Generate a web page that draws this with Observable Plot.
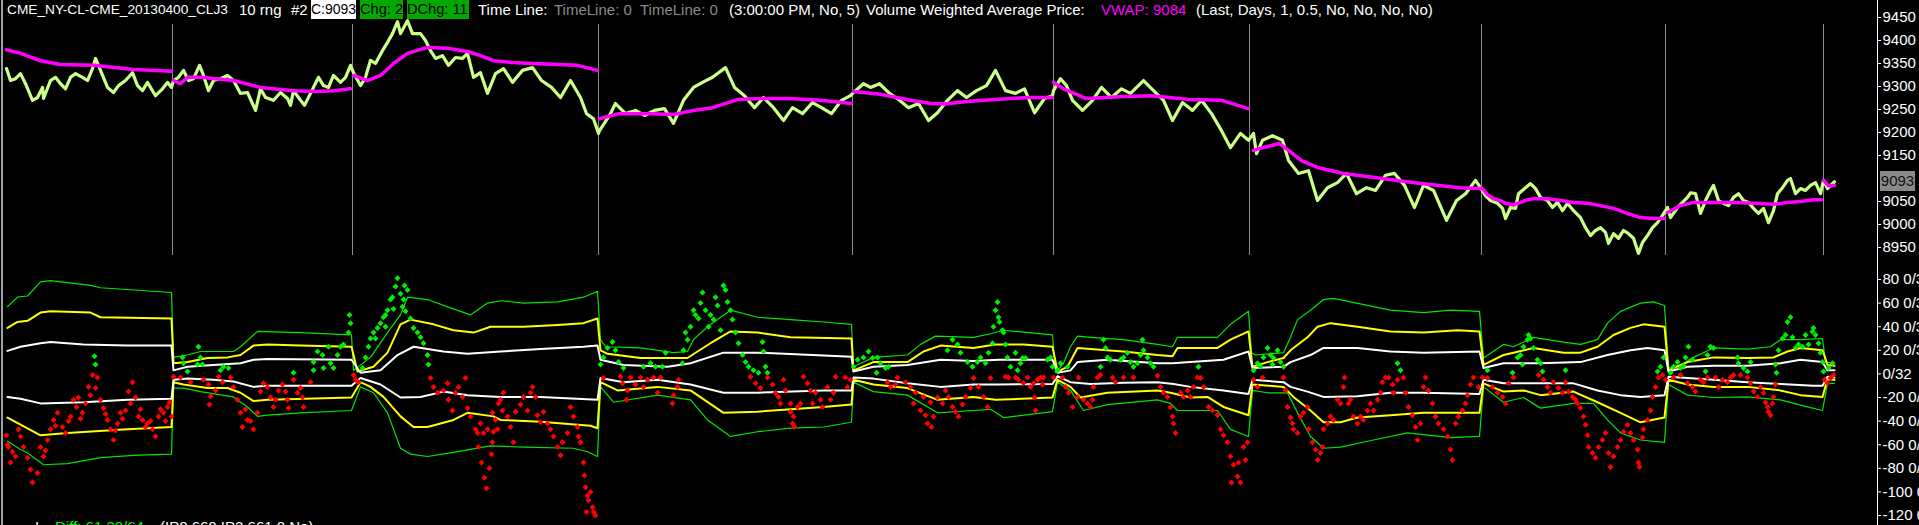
<!DOCTYPE html>
<html>
<head>
<meta charset="utf-8">
<script src="https://cdn.jsdelivr.net/npm/d3@7"></script>
<script src="https://cdn.jsdelivr.net/npm/@observablehq/plot@0.6"></script>
<style>
html,body{margin:0;padding:0;background:#000;}
#wrap{position:relative;width:1919px;height:525px;overflow:hidden;background:#000;font-family:"Liberation Sans",Arial,sans-serif;}
#upper,#lower{position:absolute;left:0;}
#upper{top:0;}
#lower{top:260px;}
.t{position:absolute;top:0;height:19px;line-height:19px;font-size:15px;white-space:nowrap;color:#fff;}
.box{color:#000;padding:0;box-sizing:border-box;overflow:hidden;}
.gray{color:#8a8a8a;}
.mag{color:#ff00ff;}
#leftline{position:absolute;left:1px;top:0;width:2px;height:525px;background:#a0a0a0;}
#axisline{position:absolute;left:1877px;top:0;width:1px;height:525px;background:#fff;}
#badge{position:absolute;left:1880px;width:35px;height:20px;line-height:20px;background:#8a8a8a;color:#111;font-size:15px;text-align:center;}
.b{position:absolute;top:518px;font-size:15px;line-height:17px;white-space:nowrap;color:#fff;}
</style>
</head>
<body>
<div id="wrap">
  <div id="upper"></div>
  <div id="lower"></div>
  <div id="leftline"></div>
  <div id="axisline"></div>
  <div id="title"></div>
  <div id="bottom"></div>
</div>
<script>
// ---------- data ----------
const sessionStarts = [172, 352, 598, 852, 1053, 1249, 1481, 1665, 1823];
const priceTicks = [8950, 9000, 9050, 9150, 9200, 9250, 9300, 9350, 9400, 9450];
const oscTicks = [-120, -100, -80, -60, -40, -20, 0, 20, 40, 60, 80];
const lastPrice = 9093;

// price (bar, price)
const price = [
[6,9339],[10,9313],[15,9317],[20,9328],[25,9306],[32,9270],[37,9276],[42,9298],[43,9274],[50,9313],[55,9320],[60,9306],[65,9295],[70,9320],[75,9328],[82,9320],[87,9313],[92,9339],[95,9361],[100,9335],[107,9298],[113,9287],[118,9302],[125,9313],[132,9330],[137,9302],[142,9291],[147,9309],[155,9280],[162,9295],[167,9309],[171,9298],
[173,9313],[178,9320],[183,9335],[188,9313],[193,9317],[199,9346],[203,9324],[208,9291],[213,9313],[220,9317],[227,9324],[233,9313],[240,9285],[247,9287],[255,9248],[260,9295],[265,9276],[273,9270],[280,9287],[287,9274],[290,9259],[293,9291],[300,9270],[304,9259],[310,9285],[318,9320],[323,9302],[328,9298],[333,9324],[340,9309],[345,9320],[350,9346],
[353,9330],[360,9302],[365,9320],[370,9357],[375,9350],[382,9378],[387,9396],[392,9415],[397,9441],[400,9415],[407,9443],[412,9415],[420,9415],[425,9400],[430,9378],[435,9361],[442,9367],[448,9346],[455,9363],[462,9361],[467,9372],[473,9320],[480,9330],[487,9285],[495,9328],[503,9339],[512,9309],[522,9335],[532,9341],[541,9313],[551,9298],[560,9276],[570,9313],[580,9276],[586,9241],[593,9230],[598,9198],
[599,9204],[609,9237],[615,9263],[625,9241],[635,9248],[644,9237],[654,9248],[664,9252],[673,9220],[683,9270],[693,9298],[702,9309],[712,9320],[725,9341],[734,9298],[744,9280],[754,9254],[763,9276],[773,9254],[783,9226],[792,9254],[802,9241],[812,9265],[821,9254],[831,9241],[841,9270],[850,9280],
[853,9287],[863,9306],[870,9298],[879,9306],[889,9285],[899,9270],[908,9254],[918,9263],[928,9226],[937,9243],[947,9270],[957,9291],[966,9276],[976,9291],[986,9302],[995,9335],[1005,9291],[1015,9285],[1024,9295],[1034,9243],[1044,9274],[1052,9280],
[1053,9291],[1060,9317],[1066,9302],[1072,9270],[1082,9248],[1092,9270],[1101,9298],[1111,9276],[1121,9295],[1130,9285],[1143,9313],[1153,9291],[1163,9270],[1172,9226],[1182,9265],[1192,9248],[1201,9270],[1211,9241],[1221,9204],[1230,9167],[1240,9198],[1248,9183],
[1253,9198],[1256,9154],[1262,9183],[1272,9193],[1282,9183],[1288,9139],[1298,9111],[1308,9117],[1317,9052],[1327,9080],[1337,9091],[1346,9111],[1356,9067],[1366,9080],[1375,9074],[1385,9107],[1394,9111],[1404,9085],[1414,9037],[1423,9085],[1433,9074],[1446,9009],[1456,9052],[1465,9067],[1475,9096],[1480,9080],
[1485,9063],[1490,9052],[1497,9046],[1502,9035],[1505,9013],[1510,9037],[1515,9035],[1518,9067],[1525,9080],[1530,9089],[1535,9078],[1540,9059],[1547,9052],[1552,9037],[1557,9048],[1562,9030],[1567,9046],[1573,9030],[1580,9015],[1585,8993],[1590,8976],[1595,8987],[1600,8993],[1605,8983],[1608,8959],[1613,8980],[1618,8970],[1623,8987],[1628,8980],[1633,8970],[1638,8937],[1642,8961],[1647,8976],[1652,8993],[1657,9004],[1662,9020],[1665,9030],
[1667,9037],[1670,9015],[1677,9037],[1682,9048],[1687,9059],[1690,9069],[1695,9067],[1700,9024],[1705,9052],[1710,9074],[1713,9085],[1718,9052],[1723,9046],[1728,9041],[1733,9059],[1738,9067],[1743,9052],[1748,9048],[1753,9035],[1758,9024],[1763,9035],[1768,9004],[1773,9030],[1777,9067],[1782,9080],[1787,9096],[1790,9100],[1795,9067],[1800,9078],[1805,9074],[1810,9085],[1815,9091],[1820,9067],
[1823,9096],[1827,9078],[1830,9085],[1834,9093]
];

// VWAP (bar, price), resets each session
const vwap = [
[6,9380],[20,9372],[40,9356],[60,9348],[93,9346],[133,9337],[171,9333],
[173,9313],[180,9306],[187,9320],[200,9320],[233,9313],[260,9298],[293,9291],[317,9289],[333,9291],[350,9295],
[353,9324],[367,9313],[380,9324],[393,9350],[407,9372],[427,9385],[447,9383],[467,9376],[480,9367],[493,9356],[512,9352],[532,9350],[577,9346],[597,9335],
[599,9230],[618,9241],[650,9241],[673,9239],[693,9248],[712,9254],[738,9272],[760,9274],[789,9274],[820,9270],[851,9263],
[853,9289],[880,9283],[910,9270],[931,9263],[944,9262],[969,9268],[995,9272],[1027,9276],[1052,9276],
[1053,9309],[1063,9295],[1079,9280],[1085,9274],[1124,9278],[1150,9280],[1169,9276],[1188,9272],[1221,9270],[1248,9252],
[1253,9161],[1262,9167],[1279,9176],[1288,9161],[1301,9139],[1317,9124],[1343,9111],[1382,9100],[1414,9091],[1459,9080],[1479,9078],
[1481,9080],[1487,9065],[1493,9056],[1500,9052],[1505,9046],[1513,9043],[1520,9048],[1527,9054],[1533,9056],[1547,9056],[1560,9052],[1573,9048],[1587,9046],[1600,9041],[1613,9035],[1627,9024],[1640,9015],[1653,9013],[1664,9013],
[1667,9026],[1680,9041],[1693,9048],[1713,9048],[1733,9048],[1753,9046],[1773,9044],[1787,9048],[1800,9050],[1813,9054],[1821,9054],
[1823,9096],[1828,9084],[1834,9085]
];

// deviation bands (bar, value)
const greenUpper = [
[7,57],[17,65],[27,66],[40,78],[50,79],[90,75],[100,73],[171,69],
[173,14],[187,16],[200,19],[233,19],[240,23],[253,33],[257,36],[300,35],[351,33],
[353,3],[370,14],[387,35],[400,50],[407,65],[427,63],[450,56],[470,50],[487,60],[500,62],[523,60],[557,61],[583,65],[597,70],
[600,29],[605,23],[640,22],[673,18],[687,19],[693,29],[707,40],[730,54],[757,48],[790,46],[823,44],[851,42],
[853,6],[873,14],[907,16],[920,25],[935,32],[973,31],[990,34],[1003,37],[1052,33],
[1055,1],[1063,9],[1070,23],[1077,32],[1090,31],[1123,29],[1157,25],[1172,23],[1177,31],[1217,31],[1230,42],[1248,53],
[1251,18],[1255,16],[1283,18],[1290,31],[1297,46],[1310,54],[1323,63],[1333,64],[1373,57],[1390,54],[1423,52],[1450,54],[1479,53],
[1483,13.5],[1503,25],[1513,23],[1533,31],[1563,27],[1580,25],[1597,29],[1607,43],[1620,53],[1640,60],[1653,61],[1664,58],
[1668,5],[1680,7.6],[1693,14],[1713,22],[1747,21],[1770,23],[1780,29],[1800,29],[1822,30],
[1825,10],[1834,9]
];
const yellowUpper = [
[7,39],[17,44],[27,45],[40,52],[50,53],[90,52],[100,48],[171,47],
[173,9],[187,10],[207,13.5],[227,14],[240,16],[253,24],[267,25],[300,24],[351,23],
[357,2],[373,6],[387,18],[400,42],[410,46],[433,42],[453,37],[473,35],[490,40],[523,40],[557,41.5],[583,43],[597,47],
[600,20],[607,17],[640,13.5],[687,13.5],[697,19],[710,26],[730,36],[757,35],[790,31],[851,30],
[853,3],[873,10],[907,10],[923,19],[940,24],[973,22],[995,25],[1023,25],[1052,23],
[1057,2],[1067,6],[1077,22],[1090,21],[1123,19],[1157,16],[1172,15],[1177,22],[1217,22],[1230,29],[1248,36],
[1252,6],[1267,10],[1283,13.5],[1290,20],[1307,31],[1317,40],[1330,43],[1357,40],[1390,36],[1423,35],[1457,37],[1479,36],
[1483,7.6],[1503,16],[1513,18],[1533,22],[1563,18],[1580,18],[1597,23],[1613,33],[1630,39],[1643,42],[1664,40],
[1668,3],[1687,10],[1713,14],[1747,13.5],[1773,14],[1787,19],[1800,22],[1822,20],
[1827,7.6],[1834,7]
];
const whiteUpper = [
[7,19.5],[20,23],[40,26],[50,27],[83,25],[127,24],[171,24],
[173,3],[187,6],[213,7.6],[240,9],[253,12],[267,12.7],[351,12],
[360,1],[380,3],[397,16],[413,23],[443,19],[467,17],[500,19],[540,21],[583,23],[597,24],
[600,12],[623,7.6],[667,6],[690,9],[723,18],[757,18],[851,14.5],
[853,2],[873,6],[907,7.6],[940,12],[973,11],[998,12],[1052,12],
[1057,1],[1070,3],[1077,10],[1107,12],[1157,9],[1172,9],[1190,10],[1223,12],[1248,19],
[1252,5],[1283,6],[1290,10],[1310,16],[1323,22],[1357,22],[1390,19],[1423,18],[1479,19],
[1483,5],[1503,9],[1540,9],[1580,10],[1607,16],[1630,20],[1647,22],[1664,20],
[1668,2],[1687,6],[1713,7],[1747,7],[1780,9],[1800,12],[1822,10],
[1827,3],[1834,3]
];
const whiteLower = [
[7,-19.5],[20,-21],[40,-25],[83,-24],[127,-22],[171,-21],
[173,-5],[187,-4],[213,-5],[233,-6.5],[253,-11],[267,-10],[351,-10],
[360,-3.5],[380,-9],[400,-20],[420,-19.5],[443,-15],[467,-18],[500,-19.5],[540,-19.5],[597,-22],
[600,-3.5],[623,-7],[657,-5],[690,-9],[723,-16],[757,-16],[823,-14],[851,-14],
[853,-3],[873,-4],[907,-8],[940,-11],[973,-9],[998,-9],[1052,-8.5],
[1057,-2],[1070,-7],[1090,-8.5],[1123,-7.6],[1157,-7],[1173,-8.5],[1190,-11],[1223,-14],[1248,-17],
[1252,-5],[1283,-7],[1290,-11],[1307,-15],[1323,-19.5],[1357,-19],[1390,-16],[1423,-16],[1479,-17],
[1483,-5],[1503,-8],[1540,-8],[1573,-8],[1597,-14],[1620,-18],[1640,-19.5],[1664,-18],
[1668,-2.5],[1687,-3.5],[1713,-5],[1747,-7],[1780,-8.5],[1813,-10],[1822,-10],
[1827,-2.5],[1834,-3]
];
const yellowLower = [
[7,-37],[20,-43],[40,-52],[67,-50],[127,-47],[171,-45],
[173,-7],[183,-9],[207,-12],[227,-12],[240,-16],[253,-23],[267,-22],[351,-20],
[360,-7],[370,-11],[383,-19.5],[400,-36],[413,-45],[427,-45],[453,-39],[467,-33],[493,-36],[500,-39],[540,-40.6],[590,-44],[597,-46],
[600,-7],[617,-14],[657,-11],[690,-14],[723,-33],[757,-32],[823,-28],[851,-26],
[853,-5],[873,-9],[907,-12],[937,-22],[973,-19.5],[995,-22],[1052,-20],
[1057,-5],[1070,-11],[1080,-20],[1107,-16],[1157,-14],[1170,-16],[1190,-20],[1207,-19.5],[1223,-28],[1248,-35],
[1252,-9],[1283,-11],[1293,-19.5],[1310,-31],[1323,-41],[1340,-41],[1357,-37],[1390,-35],[1423,-33],[1479,-33],
[1483,-8],[1503,-15],[1523,-14],[1540,-18],[1573,-15],[1597,-24],[1620,-33],[1640,-41],[1664,-37],
[1668,-5],[1687,-9],[1713,-11],[1747,-11],[1780,-14],[1800,-18],[1822,-19.5],
[1827,-4.5],[1834,-5]
];
const greenLower = [
[7,-57],[20,-64],[27,-67],[43,-77],[67,-76],[100,-71],[133,-69],[171,-68],
[173,-12],[183,-12],[200,-15],[233,-19.5],[247,-28],[257,-36],[267,-35],[300,-33],[351,-31],
[360,-11],[373,-16],[387,-33],[400,-63],[410,-68],[427,-70],[450,-67],[470,-64],[490,-61],[523,-62],[573,-63],[587,-66],[597,-70],
[600,-11],[613,-24],[657,-18],[690,-22],[707,-39],[730,-53],[757,-49],[790,-46],[823,-45],[851,-41],
[853,-7],[873,-15],[907,-18],[937,-33],[973,-31],[990,-30],[1003,-37],[1052,-32],
[1057,-7],[1070,-14],[1083,-31],[1107,-26],[1157,-22],[1170,-25],[1177,-31],[1217,-31],[1230,-47],[1248,-53],
[1252,-14],[1267,-16],[1287,-16],[1297,-33],[1310,-53],[1323,-63],[1340,-62],[1373,-56],[1407,-50],[1450,-54],[1479,-53],
[1483,-11],[1503,-24],[1523,-20],[1540,-29],[1573,-25],[1593,-25],[1607,-39],[1620,-50],[1640,-56],[1664,-58],
[1668,-9],[1687,-18],[1713,-20],[1747,-19.5],[1780,-22],[1807,-28],[1822,-31],
[1827,-8],[1834,-8]
];

// deviation of each range bar from VWAP (bar, value)
const deviation = [
// session 1
[6,-52],[8,-62],[18,-47],[20,-53],[23,-62],[40,-62],[47,-56],[50,-47],[53,-39],[57,-33],[62,-45],[65,-50],[70,-36],[73,-22],[78,-20],[82,-33],[85,-25],[88,-11],[92,-1],[95,-12],[97,-3],[100,-22],[103,-29],[107,-39],[110,-47],[113,-56],[117,-42],[120,-33],[125,-31],[128,-15],[132,-7],[135,-20],[138,-36],[142,-39],[147,-42],[152,-47],[155,-53],[158,-36],[163,-33],[167,-28],[171,-36],
[7,-60],[12,-66],[15,-70],[10,-75],[27,-71],[30,-81],[32,-92],[37,-84],[43,-70],[45,-65],[55,-44],[68,-40],[76,-28],[80,-38],[90,-18],[105,-34],[115,-48],[122,-38],[130,-25],[140,-30],[145,-45],[150,-40],[160,-30],[165,-40],[169,-24],
[94,15],[95,8],
// session 2
[182,14],[183,9],[187,2],[198,23],[200,14],[197,8],[202,8],[220,3],[223,6],[228,5],[293,1],[313,10],[317,19],[322,16],[328,23],[330,9],[333,5],[337,16],[340,23],[343,25],[348,35],[350,43],[349,50],[313,3],[323,5],
[173,-2.5],[180,-3],[190,-7],[203,-5],[208,-9],[210,-19],[209,-26],[215,-14],[218,-2.5],[222,-7],[230,-3],[233,-11],[237,-22],[240,-33],[242,-45],[247,-39],[253,-47],[257,-33],[260,-15],[263,-8],[267,-11],[270,-20],[273,-28],[278,-14],[282,-9],[287,-22],[288,-29],[293,-5],[297,-16],[302,-20],[303,-28],[310,-7],[250,-40],[245,-30],[275,-22],[285,-15],[300,-12],
// session 3
[353,-1],[355,-5],[358,-7],
[362,5],[365,14],[368,23],[370,30],[373,35],[377,39],[380,43],[383,48],[387,54],[390,63],[392,65],[395,74],[397,81],[403,63],[402,57],[405,53],[407,71],[410,47],[413,39],[417,35],[420,31],[423,26],[427,16],[428,8],[375,30],[385,40],[393,55],[400,68],[404,75],[385,50],
[430,-3.5],[433,-11],[437,-16],[443,-14],[447,-8],[448,-22],[452,-31],[455,-16],[458,-11],[462,-19.5],[465,-3.5],[467,-29],[470,-36],[475,-47],[477,-50],[480,-42],[483,-50],[487,-47],[492,-33],[497,-47],[500,-22],
[478,-62],[481,-75],[484,-88],[486,-97],[489,-80],[491,-68],
[492,-58],[493,-49],[495,-39],[498,-25],[503,-16],[502,-31],[507,-36],[510,-45],[513,-58],[515,-32],[520,-26],[523,-19.5],[527,-31],[530,-16],[532,-11],[535,-19.5],[537,-35],[540,-41],[543,-32],[547,-42],[550,-47],[553,-53],[557,-62],[560,-69],[562,-58],[567,-50],[570,-28],[573,-36],[577,-45],[578,-53],[580,-58],[583,-75],[584,-86],[585,-96],[587,-103],[588,-107],[590,-100],[592,-113],[593,-117],[595,-120],[586,-117],
// session 4
[600,8],[603,14],[607,22],[612,27],[615,20],[618,10],[623,5],[643,6],[650,9],[655,6],[665,18],[662,6],[682,9],[683,20],[687,29],[690,40],[693,54],[698,47],[702,69],[705,54],[708,40],[713,46],[717,58],[720,37],[723,75],[725,71],[727,61],[730,54],[732,46],[735,35],[738,26],[742,16],[745,10],[748,6],[753,3],[758,1],[762,27],[763,19],[765,6],[767,1],[685,35],[695,50],[700,60],[710,50],[715,65],
[603,-3.5],[620,-2.5],[622,-8],[627,-14],[626,-22],[630,-3],[635,-9],[640,-3],[643,-11],[647,-5],[653,-3],[657,-16],[660,-3],[672,-25],[673,-18],[677,-11],[678,-5],[750,-2.5],[755,-8],[760,-12],[767,-3],[772,-9],[775,-16],[778,-19.5],[780,-25],[783,-5],[785,-14],[790,-25],[792,-42],[793,-36],[797,-28],[800,-25],[803,-2.5],[807,-8],[810,-14],[812,-25],[815,-16],[820,-22],[822,-28],[827,-11],[830,-22],[833,-16],[835,-2.5],[845,-3],[847,-11],[850,-5],[790,-32],[794,-45],
// session 5
[853,6],[857,12],[863,14],[868,19],[872,13.5],[877,14],[880,9],[885,5],[876,1],[888,6],[947,20],[952,29],[957,25],[960,18],[967,10],[972,6],[977,10],[980,14],[985,9],[988,18],[992,26],[993,40],[995,54],[997,61],[998,48],[999,44],[1002,37],[1003,35],[1005,25],[1007,14],[1010,6],[1015,18],[1020,9],[1022,13.5],[1025,13.5],[1017,3],[1047,12],[1050,14],[1052,6],
[887,-7],[890,-11],[895,-9],[897,-3],[905,-7],[910,-11],[915,-16],[923,-19.5],[930,-24],[937,-20],[942,-25],[945,-14],[948,-19.5],[952,-28],[955,-32],[958,-36],[962,-26],[965,-19.5],[970,-12],[973,-3.5],[978,-11],[983,-19.5],[987,-28],[990,-3.5],[920,-31],[925,-35],[927,-42],[931,-45],[933,-36],[913,-25],[1005,-2.5],[1008,-3],[1015,-3],[1018,-5],[1023,-8],[1027,-3],[1030,-11],[1033,-8],[1037,-5],[1040,-3],[1042,-9],[1034,-20],[1035,-31],[1043,-3],[1053,-3],
// session 6
[1057,3],[1060,9],[1067,6],[1100,6],[1103,29],[1105,22],[1107,14],[1110,12],[1120,12],[1123,14],[1127,18],[1130,10],[1133,6],[1137,9],[1140,16],[1142,29],[1143,20],[1147,14],[1150,9],[1153,6],[1198,6],
[1062,-3],[1065,-11],[1068,-16],[1072,-28],[1077,-19.5],[1078,-3],[1083,-22],[1087,-25],[1090,-28],[1092,-22],[1097,-3],[1093,-11],[1100,-1],[1112,-3],[1115,-7],[1123,-3],[1133,-3],[1157,-1.5],[1160,-11],[1163,-16],[1167,-19.5],[1170,-28],[1172,-36],[1173,-42],[1175,-50],[1180,-16],[1183,-19.5],[1187,-14],[1190,-19.5],[1193,-11],[1197,-3],[1200,-3.5],[1203,-11],[1208,-28],[1212,-31],[1217,-35],[1220,-47],[1223,-52],[1227,-58],[1230,-70],[1233,-77],[1237,-87],[1240,-92],[1243,-62],[1245,-73],[1247,-58],[1231,-92],[1238,-75],
// session 7
[1253,3],[1257,9],[1260,6],[1263,14],[1267,22],[1270,16],[1273,13.5],[1277,20],[1280,10],[1283,6],[1272,8],[1397,9],[1400,3],
[1253,-5],[1257,-11],[1262,-3],[1283,-3],[1285,-14],[1287,-28],[1290,-37],[1292,-42],[1293,-47],[1297,-50],[1300,-36],[1303,-33],[1307,-28],[1308,-47],[1312,-58],[1315,-64],[1317,-73],[1320,-67],[1322,-62],[1323,-47],[1327,-42],[1330,-36],[1333,-39],[1337,-22],[1340,-25],[1343,-11],[1344,-3],[1348,-25],[1350,-22],[1353,-36],[1357,-42],[1360,-36],[1363,-39],[1367,-31],[1370,-25],[1373,-31],[1377,-22],[1380,-16],[1382,-7],[1385,-3],[1388,-3],[1392,-9],[1393,-16],[1397,-5],[1403,-3],[1405,-16],[1408,-28],[1412,-35],[1415,-45],[1417,-56],[1420,-42],[1423,-11],[1425,-3],[1428,-14],[1432,-25],[1435,-36],[1438,-42],[1443,-47],[1447,-53],[1450,-64],[1452,-73],[1455,-42],[1458,-36],[1462,-31],[1465,-25],[1467,-18],[1470,-9],[1473,-3],[1478,-11],
// session 8
[1487,3],[1512,1],[1517,14],[1520,16],[1523,23],[1527,29],[1528,33],[1530,30],[1533,22],[1537,12],[1540,9],[1542,2],[1565,3],[1522,8],[1660,6],[1663,14],[1657,2],
[1482,-3],[1487,-3.5],[1492,-11],[1497,-16],[1502,-19.5],[1505,-25],[1508,-8],[1513,-3],[1538,-1],[1543,-5],[1547,-11],[1550,-16],[1553,-7],[1558,-12],[1562,-16],[1565,-7],[1568,-15],[1572,-19.5],[1575,-22],[1577,-25],[1580,-29],[1583,-36],[1585,-43],[1587,-52],[1588,-62],[1592,-67],[1595,-71],[1598,-62],[1602,-56],[1605,-50],[1608,-67],[1610,-79],[1613,-70],[1617,-62],[1620,-56],[1623,-49],[1627,-43],[1630,-50],[1633,-56],[1637,-64],[1638,-75],[1639,-79],[1642,-54],[1643,-47],[1647,-39],[1650,-31],[1652,-19.5],[1655,-11],[1658,-3],[1662,-1],[1665,-5],
// session 9
[1670,1],[1673,6],[1677,10],[1680,5],[1683,7],[1685,14],[1688,23],[1692,12],[1705,2],[1707,16],[1710,23],[1713,22],[1737,14],[1738,9],[1743,5],[1747,2],[1750,10],[1775,8],[1776,1],[1778,20],[1782,30],[1785,33],[1787,44],[1790,48],[1792,31],[1795,22],[1798,25],[1802,23],[1805,33],[1808,25],[1812,36],[1813,39],[1815,33],[1818,26],[1820,18],[1822,10],
[1673,-3],[1680,-1],[1687,-8],[1692,-11],[1695,-15],[1700,-5],[1703,-7],[1707,-3],[1715,-3],[1718,-11],[1722,-5],[1727,-7],[1730,-3],[1733,-1],[1740,-1],[1747,-3],[1750,-8],[1753,-15],[1757,-19.5],[1760,-11],[1763,-16],[1765,-24],[1767,-28],[1768,-32],[1770,-35],[1772,-25],[1773,-19.5],[1775,-9],
// session 10
[1823,2],[1828,5],[1832,9],[1824,-5],[1827,-8],[1830,-3.5],[1833,-1]
];

// header texts
const headerPieces = [
  {text: "CME_NY-CL-CME_20130400_CLJ3", left: 7, cls: "", size: 13.7},
  {text: "10 rng", left: 239, cls: ""},
  {text: "#2", left: 291, cls: ""},
  {text: "C:9093", left: 311, width: 45, cls: "box", bg: "#ffffff", size: 14},
  {text: "Chg: 2", left: 360, width: 43, cls: "box", bg: "#00a800", size: 14.6},
  {text: "DChg: 11", left: 407, width: 62, cls: "box", bg: "#00a800", size: 14.6},
  {text: "Time Line:", left: 478, cls: ""},
  {text: "TimeLine: 0", left: 554, cls: "gray"},
  {text: "TimeLine: 0", left: 640, cls: "gray"},
  {text: "(3:00:00 PM, No, 5)", left: 729, cls: ""},
  {text: "Volume Weighted Average Price:", left: 866, cls: ""},
  {text: "VWAP: 9084", left: 1101, cls: "mag"},
  {text: "(Last, Days, 1, 0.5, No, No, No, No)", left: 1196, cls: ""}
];
const footerPieces = [
  {text: "I", left: 35, color: "#ffffff"},
  {text: "Diff: 61 30/64", left: 55, color: "#00ff00"},
  {text: "(IP0 660 IP2 661 0 No)", left: 160, color: "#ffffff"}
];

// ---------- drawing ----------
const FONT = "'Liberation Sans', Arial, sans-serif";
const X_END = 1877;
const session = d => d3.bisectRight(sessionStarts, d[0]);
const bx = d => d[0], by = d => d[1];

const upper = Plot.plot({
  width: 1919, height: 260,
  marginLeft: 0, marginRight: 1919 - X_END, marginTop: 17, marginBottom: 13,
  style: {background: "transparent", color: "#fff", fontFamily: FONT, fontSize: "15px"},
  x: {domain: [0, X_END], axis: null},
  y: {domain: [8950, 9450]},
  marks: [
    Plot.ruleX(sessionStarts, {stroke: "#8c8c8c", strokeWidth: 1, insetTop: 7, insetBottom: -8}),
    Plot.line(price, {x: bx, y: by, stroke: "#ccff88", strokeWidth: 3.2}),
    Plot.line(vwap, {x: bx, y: by, z: session, stroke: "#ff00ff", strokeWidth: 3.5}),
    Plot.axisY(priceTicks, {anchor: "right", tickSize: 3, tickPadding: 2, color: "#fff", fontSize: 15, tickFormat: d => String(d), label: null})
  ]
});
document.getElementById("upper").appendChild(upper);

const lower = Plot.plot({
  width: 1919, height: 265,
  marginLeft: 0, marginRight: 1919 - X_END, marginTop: 19, marginBottom: 10,
  style: {background: "transparent", color: "#fff", fontFamily: FONT, fontSize: "15px"},
  x: {domain: [0, X_END], axis: null},
  y: {domain: [-120, 80]},
  marks: [
    Plot.line(greenUpper, {x: bx, y: by, stroke: "#00e600", strokeWidth: 1.2}),
    Plot.line(greenLower, {x: bx, y: by, stroke: "#00e600", strokeWidth: 1.2}),
    Plot.line(yellowUpper, {x: bx, y: by, stroke: "#ffff00", strokeWidth: 2}),
    Plot.line(yellowLower, {x: bx, y: by, stroke: "#ffff00", strokeWidth: 2}),
    Plot.line(whiteUpper, {x: bx, y: by, stroke: "#ffffff", strokeWidth: 2}),
    Plot.line(whiteLower, {x: bx, y: by, stroke: "#ffffff", strokeWidth: 2}),
    Plot.dot(deviation, {x: bx, y: by, symbol: "diamond2", r: 2.7, stroke: null,
      fill: d => d[1] > 0 ? "#00ee00" : "#ff0000"}),
    Plot.axisY(oscTicks, {anchor: "right", tickSize: 3, tickPadding: 2, color: "#fff", fontSize: 15,
      tickFormat: d => d === 0 ? "0/32" : `${d} 0/32`, label: null})
  ]
});
document.getElementById("lower").appendChild(lower);

// last price badge on the price axis
const badge = document.createElement("div");
badge.id = "badge";
badge.textContent = String(lastPrice);
badge.style.top = (upper.scale("y").apply(lastPrice) - 10) + "px";
document.getElementById("wrap").appendChild(badge);

// header
const title = document.getElementById("title");
for (const p of headerPieces) {
  const s = document.createElement("div");
  s.className = "t " + p.cls;
  s.textContent = p.text;
  s.style.left = p.left + "px";
  if (p.size) s.style.fontSize = p.size + "px";
  if (p.width) s.style.width = p.width + "px";
  if (p.bg) s.style.background = p.bg;
  title.appendChild(s);
}
const bottom = document.getElementById("bottom");
for (const p of footerPieces) {
  const s = document.createElement("div");
  s.className = "b";
  s.textContent = p.text;
  s.style.left = p.left + "px";
  s.style.color = p.color;
  bottom.appendChild(s);
}
</script>
</body>
</html>
